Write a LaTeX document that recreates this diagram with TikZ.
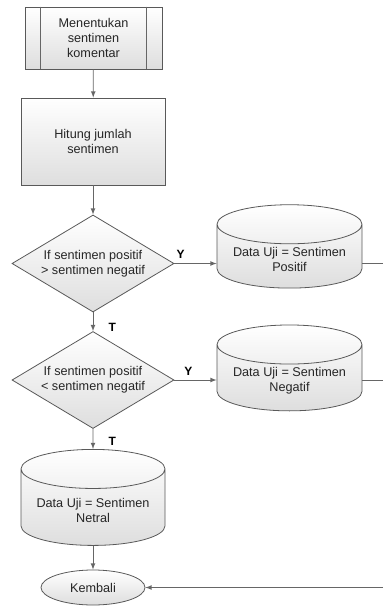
\documentclass[tikz,border=0pt]{standalone}
\usepackage{fontspec}
\setmainfont{Liberation Sans}
\usetikzlibrary{shapes.geometric,arrows,calc}

\begin{document}
\begin{tikzpicture}[
x=0.75pt, y=-0.75pt,
box/.style={
	draw=black!65, rectangle, inner sep=2pt,
	top color=white, bottom color=black!13,
	align=center, text=black!85,
	font=\fontsize{9.5}{11.25}\selectfont
},
decision/.style={
	box, diamond, aspect=1.67, inner sep=0pt,
	minimum width=121.5pt, minimum height=72.75pt
},
datastore/.style={
	box, cylinder, shape border rotate=90, aspect=0.33,
	minimum width=108.75pt
},
term/.style={box, ellipse, inner sep=0pt, minimum width=78pt, minimum height=26.25pt},
lbl/.style={font=\fontsize{9}{10}\selectfont\bfseries, text=black},
line width=0.6pt, draw=black!60, >=latex
]
\useasboundingbox (0,0) rectangle (383,606);

\node[box, minimum width=102.75pt, minimum height=46.5pt] (pp) at (93.5,38) {Menentukan\\sentimen\\komentar};
\draw ($(pp.north west)+(16,0)$) -- ($(pp.south west)+(16,0)$);
\draw ($(pp.north east)+(-16,0)$) -- ($(pp.south east)+(-16,0)$);
\node[box, minimum width=108pt, minimum height=65.25pt] (hitung) at (93,141.5) {Hitung jumlah\\sentimen};
\node[decision] (d1) at (93,263.5) {If sentimen positif\\> sentimen negatif};
\node[datastore, minimum height=61.5pt] (c1) at (289.5,259) {Data Uji = Sentimen\\Positif};
\node[decision] (d2) at (93,380) {If sentimen positif\\< sentimen negatif};
\node[datastore, minimum height=56.25pt] (c2) at (289.5,380.5) {Data Uji = Sentimen\\Negatif};
\node[datastore, minimum width=108pt, minimum height=72pt] (c3) at (93,510) {Data Uji = Sentimen\\Netral};
\node[term] (kembali) at (93,587.5) {Kembali};
\coordinate (r1) at (383,263.5);
\coordinate (r2) at (383,380);
\coordinate (r3) at (383,587.5);

\draw[->] (pp) -- (hitung);
\draw[->] (hitung) -- (d1);
\draw[->] (d1.east) -- node[lbl, pos=0.15, above] {Y} (c1.west |- d1.east);
\draw (c1.east |- r1) -- (r1);
\draw[->] (d1.south) -- node[lbl, pos=0.8, right=8pt] {T} (d2.north);
\draw[->] (d2.east) -- node[lbl, pos=0.33, above] {Y} (c2.west |- d2.east);
\draw (c2.east |- r2) -- (r2);
\draw[->] (d2.south) -- node[lbl, pos=0.6, right=8pt] {T} (c3.north);
\draw[->] (c3) -- (kembali);
\draw[->] (r3) -- (kembali.east);
\end{tikzpicture}
\end{document}
